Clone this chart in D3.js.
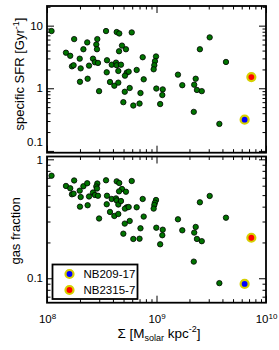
<!DOCTYPE html>
<html>
<head>
<meta charset="utf-8">
<script src="https://cdn.jsdelivr.net/npm/d3@7/dist/d3.min.js"></script>
<style>
body { margin: 0; background: #fff; }
text { font-family: "Liberation Sans", Arial, sans-serif; fill: #000; }
.tick line { stroke: #000; }
</style>
</head>
<body>
<div id="chart"></div>
<script>
// surface density (Msolar kpc^-2), one entry per galaxy
var surfaceDensity = [1.10e8, 1.77e8, 1.49e8, 1.63e8, 2.15e8, 2.33e8, 3.46e8, 4.33e8, 4.57e8, 5.94e8,
	2.88e8, 2.82e8, 2.86e8, 4.84e8, 5.26e8, 4.55e8, 1.69e8, 1.75e8, 1.99e8, 2.03e8,
	2.42e8, 2.63e8, 2.74e8, 2.92e8, 3.53e8, 3.51e8, 3.90e8, 4.27e8, 4.33e8, 4.48e8,
	4.74e8, 5.35e8, 5.15e8, 5.57e8, 6.59e8, 2.00e8, 2.35e8, 2.99e8, 3.76e8, 4.12e8,
	4.48e8, 5.13e8, 5.69e8, 4.98e8, 6.14e8, 7.00e8, 7.14e8, 7.48e8, 9.90e8, 9.68e8,
	9.55e8, 9.42e8, 7.64e8, 3.06e9, 2.49e9, 4.31e9, 1.57e9, 1.72e9, 2.28e9, 2.21e9,
	2.34e9, 2.59e9, 9.96e8, 1.14e9, 1.13e9, 1.08e9, 2.19e9, 3.75e9];
// specific SFR (Gyr^-1)
var specificSfr = [8.2, 6.1, 3.7, 3.3, 4.2, 5.4, 8.2, 7.9, 7.5, 7.8,
	6.1, 5.0, 4.2, 4.8, 4.2, 3.9, 2.24, 2.33, 2.97, 2.08,
	2.30, 2.97, 2.60, 2.54, 2.80, 1.80, 2.38, 2.57, 2.33, 1.89,
	2.38, 1.78, 1.59, 1.84, 1.96, 1.27, 1.42, 0.90, 1.26, 1.10,
	1.23, 0.88, 1.01, 0.60, 0.53, 0.57, 0.84, 3.13, 3.22, 2.71,
	2.33, 2.01, 1.39, 6.5, 4.2, 2.63, 1.65, 1.12, 1.42, 1.14,
	0.94, 0.90, 0.99, 0.96, 0.78, 0.56, 0.42, 0.27];
// gas fraction
var gasFraction = [0.728, 0.664, 0.597, 0.571, 0.594, 0.629, 0.666, 0.653, 0.632, 0.657,
	0.626, 0.591, 0.568, 0.563, 0.534, 0.538, 0.508, 0.514, 0.545, 0.482,
	0.487, 0.526, 0.501, 0.494, 0.494, 0.419, 0.464, 0.469, 0.451, 0.417,
	0.446, 0.395, 0.385, 0.397, 0.395, 0.400, 0.411, 0.318, 0.361, 0.334,
	0.347, 0.288, 0.303, 0.237, 0.214, 0.215, 0.263, 0.464, 0.455, 0.432,
	0.413, 0.385, 0.330, 0.492, 0.435, 0.323, 0.313, 0.253, 0.270, 0.242,
	0.214, 0.205, 0.266, 0.256, 0.230, 0.193, 0.138, 0.091];

// the two highlighted objects
var specialNames = ["NB209-17", "NB2315-7"];
var specialSurface = [6.38e9, 7.35e9];
var specialSsfr = [0.315, 1.51];
var specialGas = [0.0896, 0.219];
var specialColors = ["#0000ff", "#ff0000"];

var xTickExponents = [8, 9, 10];
var ssfrTicks = [0.1, 1, 10];
var gasTicks = [0.1, 1];

var width = 279, height = 350,
	left = 47, right = 266;

var svg = d3.select("#chart").append("svg")
	.attr("width", width)
	.attr("height", height);

svg.append("rect").attr("width", width).attr("height", height).attr("fill", "#fff");

var xScale = d3.scaleLog().domain([1e8, 1e10]).range([left, right]);

// minor tick values for a log domain (2..9 in each decade)
function minorTicks(domain) {
	var out = [];
	for (var e = Math.floor(Math.log10(domain[0])); e <= Math.ceil(Math.log10(domain[1])); e++) {
		for (var m = 2; m <= 9; m++) {
			var v = m * Math.pow(10, e);
			if (v > domain[0] && v < domain[1]) out.push(v);
		}
	}
	return out;
}

var xMajor = xTickExponents.map(function(e) { return Math.pow(10, e); });

function drawPanel(cfg) {
	var yScale = d3.scaleLog().domain(cfg.domain).range([cfg.bottom, cfg.top]);
	var g = svg.append("g").attr("class", "panel");
	var yMinor = minorTicks(cfg.domain);
	var xMinor = minorTicks(xScale.domain());

	// inward ticks on all four sides
	var sides = [
		{axis: d3.axisBottom(xScale), t: "translate(0," + cfg.bottom + ")", major: xMajor, minor: xMinor},
		{axis: d3.axisTop(xScale), t: "translate(0," + cfg.top + ")", major: xMajor, minor: xMinor},
		{axis: d3.axisLeft(yScale), t: "translate(" + left + ",0)", major: cfg.ticks, minor: yMinor},
		{axis: d3.axisRight(yScale), t: "translate(" + right + ",0)", major: cfg.ticks, minor: yMinor}
	];
	sides.forEach(function(s) {
		g.append("g").attr("transform", s.t)
			.call(s.axis.tickValues(s.minor).tickSizeInner(-3.5).tickSizeOuter(0).tickFormat(""))
			.call(function(a) { a.select(".domain").remove(); });
		g.append("g").attr("transform", s.t)
			.call(s.axis.tickValues(s.major).tickSizeInner(-7).tickSizeOuter(0).tickFormat(""))
			.call(function(a) { a.select(".domain").remove(); });
	});

	// y tick labels
	var yl = g.append("g")
		.attr("transform", "translate(" + left + ",0)")
		.call(d3.axisLeft(yScale).tickValues(cfg.ticks).tickSize(0).tickPadding(4)
			.tickFormat(d3.format("~g")));
	yl.select(".domain").remove();
	yl.selectAll("text")
		.style("font-size", "11.5px")
		.style("font-family", "'Liberation Sans', Arial, sans-serif")
		.attr("dy", function(d) { return cfg.labelShift(d); });

	// frame
	g.append("rect")
		.attr("x", left).attr("y", cfg.top)
		.attr("width", right - left).attr("height", cfg.bottom - cfg.top)
		.attr("fill", "none").attr("stroke", "#000").attr("stroke-width", 1.8);

	// galaxies
	g.selectAll("circle.gal")
		.data(d3.range(surfaceDensity.length))
		.enter().append("circle")
		.attr("class", "gal")
		.attr("cx", function(i) { return xScale(surfaceDensity[i]); })
		.attr("cy", function(i) { return yScale(cfg.values[i]); })
		.attr("r", 2.7)
		.attr("fill", "#007400")
		.attr("stroke", "#000")
		.attr("stroke-width", 0.8);

	g.selectAll("circle.special")
		.data(d3.range(specialNames.length))
		.enter().append("circle")
		.attr("class", "special")
		.attr("cx", function(i) { return xScale(specialSurface[i]); })
		.attr("cy", function(i) { return yScale(cfg.special[i]); })
		.attr("r", 4)
		.attr("fill", function(i) { return specialColors[i]; })
		.attr("stroke", "#d6d000")
		.attr("stroke-width", 2.2);

	// axis title
	var t = g.append("text")
		.attr("transform", "translate(" + cfg.titleX + "," + cfg.titleY + ") rotate(-90)")
		.attr("text-anchor", "middle")
		.style("font-size", "13px");
	cfg.title(t);

	return {g: g, y: yScale};
}

drawPanel({
	top: 6, bottom: 152.7,
	domain: [0.0936, 20.6],
	ticks: ssfrTicks,
	values: specificSfr,
	special: specialSsfr,
	titleX: 24, titleY: 74,
	labelShift: function(d) { return d === 0.1 ? "-0.45em" : "0.32em"; },
	title: function(t) {
		t.append("tspan").text("specific SFR [Gyr");
		t.append("tspan").attr("dy", -5).style("font-size", "9px").text("-1");
		t.append("tspan").attr("dy", 5).text("]");
	}
});

drawPanel({
	top: 156.5, bottom: 302.7,
	domain: [0.0623, 1.056],
	ticks: gasTicks,
	values: gasFraction,
	special: specialGas,
	titleX: 20, titleY: 231,
	labelShift: function(d) { return "0.32em"; },
	title: function(t) { t.text("gas fraction"); }
});

// x tick labels 10^n
var xl = svg.append("g").attr("transform", "translate(0,302.7)")
	.call(d3.axisBottom(xScale).tickValues(xMajor).tickSize(0).tickPadding(12).tickFormat(""));
xl.select(".domain").remove();
xl.selectAll(".tick text").each(function(d, i) {
	var t = d3.select(this).attr("text-anchor", "middle").style("font-size", "11.5px");
	t.append("tspan").text("10");
	t.append("tspan").attr("dy", -4).style("font-size", "8px").text(xTickExponents[i]);
});

// x axis title
var xt = svg.append("text")
	.attr("x", 159).attr("y", 338)
	.attr("text-anchor", "middle")
	.style("font-size", "13.5px");
xt.append("tspan").text("\u03A3 [M");
xt.append("tspan").attr("dy", 3).style("font-size", "9px").text("solar");
xt.append("tspan").attr("dy", -3).text(" kpc");
xt.append("tspan").attr("dy", -6).style("font-size", "9px").text("-2");
xt.append("tspan").attr("dy", 6).text("]");

// legend
var legend = svg.append("g").attr("transform", "translate(52.5,264.5)");
legend.append("rect")
	.attr("width", 85).attr("height", 34.5)
	.attr("fill", "#fff").attr("stroke", "#000").attr("stroke-width", 1.8);
var rows = legend.selectAll("g.row")
	.data(d3.range(specialNames.length))
	.enter().append("g")
	.attr("transform", function(i) { return "translate(0," + (9.5 + i * 16) + ")"; });
rows.append("circle")
	.attr("cx", 17).attr("r", 4)
	.attr("fill", function(i) { return specialColors[i]; })
	.attr("stroke", "#d6d000").attr("stroke-width", 2.2);
rows.append("text")
	.attr("x", 31).attr("dy", "0.36em")
	.style("font-size", "11.5px")
	.text(function(i) { return specialNames[i]; });
</script>
</body>
</html>
